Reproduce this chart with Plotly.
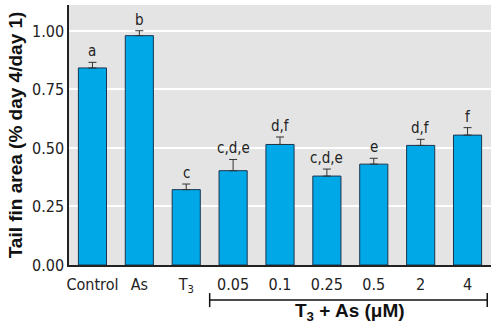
import plotly.graph_objects as go

categories = ["Control", "As", "T<sub>3</sub>", "0.05", "0.1", "0.25", "0.5", "2", "4"]
values = [0.842, 0.980, 0.322, 0.403, 0.515, 0.380, 0.431, 0.511, 0.555]
errors = [0.024, 0.021, 0.024, 0.048, 0.032, 0.030, 0.025, 0.026, 0.032]
letters = ["a", "b", "c", "c,d,e", "d,f", "c,d,e", "e", "d,f", "f"]
y_ticks = [0.0, 0.25, 0.5, 0.75, 1.0]

FONT = "DejaVu Sans Condensed, Liberation Sans Narrow, Arial Narrow, sans-serif"
BOLD = "Liberation Sans, Arial, sans-serif"
x = list(range(len(categories)))

fig = go.Figure()
fig.add_trace(go.Bar(
    x=x, y=values,
    marker=dict(color="#00a8e8", line=dict(color="#1a3550", width=1)),
    error_y=dict(type="data", array=errors, symmetric=False, arrayminus=[0]*len(errors),
                 color="#333333", thickness=1, width=4),
    width=0.6,
))

for xi, v, e, t in zip(x, values, errors, letters):
    fig.add_annotation(x=xi, y=v + e, text=t, showarrow=False, yanchor="bottom", yshift=0,
                       font=dict(family=FONT, size=15, color="#222222"))

# bracket for T3 + As group
fig.add_shape(type="line", xref="x", yref="paper", x0=2.5, x1=8.42, y0=-0.135, y1=-0.135,
              line=dict(color="#111111", width=1.5))
fig.add_shape(type="line", xref="x", yref="paper", x0=2.5, x1=2.5, y0=-0.108, y1=-0.162,
              line=dict(color="#111111", width=1.5))
fig.add_shape(type="line", xref="x", yref="paper", x0=8.42, x1=8.42, y0=-0.108, y1=-0.162,
              line=dict(color="#111111", width=1.5))
fig.add_annotation(xref="x", yref="paper", x=5.5, y=-0.235, text="<b>T<sub>3</sub> + As (μM)</b>",
                   showarrow=False, font=dict(family=BOLD, size=19, color="#111111"))

fig.update_layout(
    width=499, height=336,
    margin=dict(l=69, r=8, t=5, b=71),
    plot_bgcolor="#e4e4e4", paper_bgcolor="white",
    showlegend=False,
    bargap=0.4,
    font=dict(family=FONT, size=15, color="#222222"),
)
fig.update_xaxes(tickvals=x, ticktext=categories, range=[-0.5, len(categories) - 0.5],
                 showline=True, linecolor="#222222", linewidth=1.5, showgrid=False,
                 ticks="", ticklabelstandoff=4, tickfont=dict(family=FONT, size=16))
fig.update_yaxes(range=[0, 1.111], tickvals=y_ticks, ticktext=[f"{t:.2f}" for t in y_ticks],
                 showline=True, linecolor="#222222", linewidth=1.5, gridcolor="white", gridwidth=1.5,
                 zeroline=False, ticks="", tickfont=dict(family=FONT, size=16),
                 title=dict(text="<b>Tail fin area (% day 4/day 1)</b>",
                            font=dict(family=BOLD, size=19, color="#111111"),
                            standoff=4))

fig.write_html("out.html")
